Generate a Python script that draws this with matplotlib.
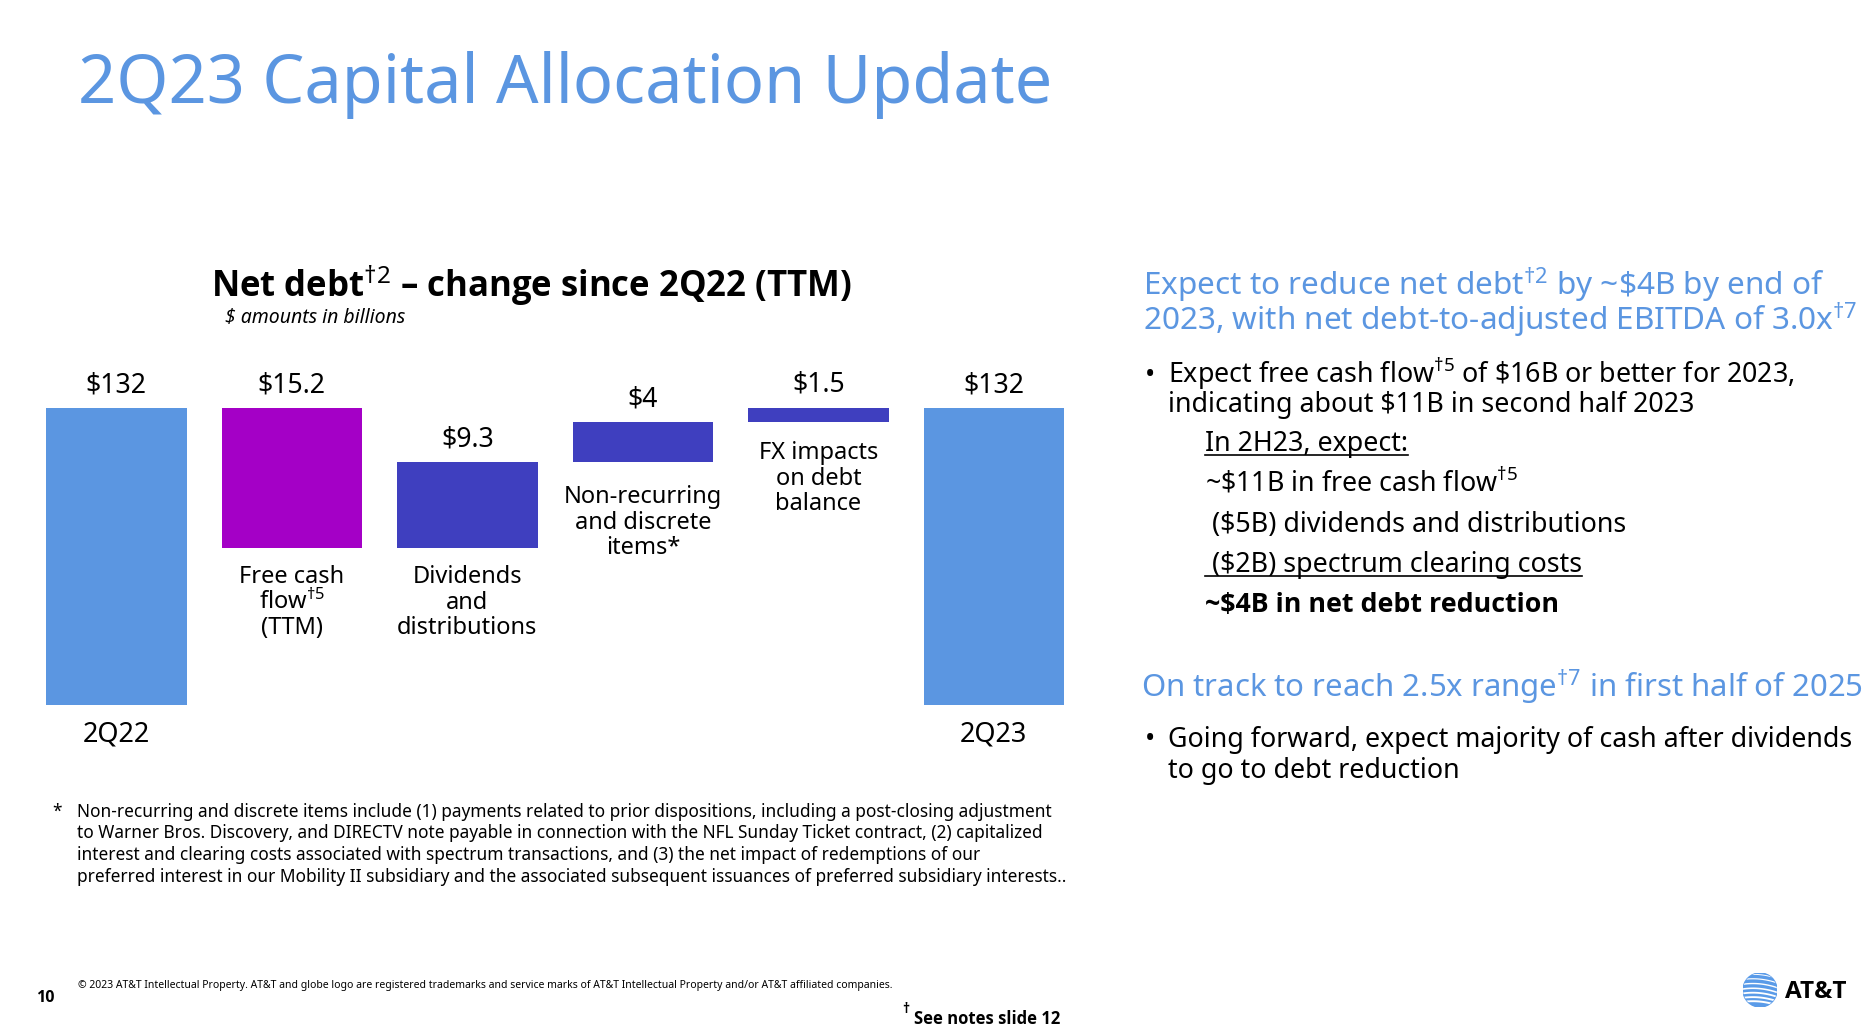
import matplotlib
matplotlib.use('Agg')
import matplotlib.pyplot as plt
import numpy as np
from matplotlib.patches import Circle
from matplotlib.lines import Line2D
from matplotlib import font_manager as fm

# ---------------- data ----------------
periods = ['2Q22', '2Q23']
start_value = 132.0
end_value = 132.0
change_names = [['Free cash', 'flow$^{\\dagger 5}$', '(TTM)'],
                ['Dividends', 'and', 'distributions'],
                ['Non-recurring', 'and discrete', 'items*'],
                ['FX impacts', 'on debt', 'balance']]
change_values = [-15.2, 9.3, 4.4, 1.5]
value_labels = ['$132', '$15.2', '$9.3', '$4', '$1.5', '$132']

# ---------------- style ----------------
W, H, DPI = 1873, 1036, 100
FONT = 'Noto Sans'
BLUE = '#5B96E1'
MAGENTA = '#A400C6'
INDIGO = '#3F3FBF'
bar_colors = [BLUE, MAGENTA, INDIGO, INDIGO, INDIGO, BLUE]
label_gap_px = [37, 35.5, 35.5, 41, 37, 37]   # first-line baseline below visible bar bottom
value_gap_px = [15.5, 15.5, 15.5, 16, 17, 15.5]
PT = 72.0 / DPI


def has_bold(fam):
    try:
        p = fm.findfont(fm.FontProperties(family=fam, weight='bold'), fallback_to_default=False)
    except Exception:
        return False
    p = p.lower()
    return ('bold' in p) or ('black' in p) or ('heavy' in p)


BOLD_FONT = 'DejaVu Sans'
for fam in ['Noto Sans', 'Open Sans', 'Lato', 'Roboto', 'Inter', 'Liberation Sans']:
    if has_bold(fam):
        BOLD_FONT = fam
        break

plt.rcParams['font.family'] = [FONT, 'DejaVu Sans']
plt.rcParams['mathtext.fontset'] = 'custom'
plt.rcParams['mathtext.rm'] = FONT
plt.rcParams['mathtext.it'] = FONT + ':italic'
plt.rcParams['mathtext.bf'] = FONT + ':bold'

fig = plt.figure(figsize=(W / DPI, H / DPI), dpi=DPI)
fig.patch.set_facecolor('white')


def fx(x):
    return x / W


def fy(y):
    return 1 - y / H


def ftext(x, y, s, **kw):
    kw.setdefault('va', 'baseline')
    kw.setdefault('ha', 'left')
    return fig.text(fx(x), fy(y), s, **kw)


def btext(x, y, s, **kw):
    kw['family'] = [BOLD_FONT, 'DejaVu Sans']
    kw['fontweight'] = 'bold'
    return ftext(x, y, s, **kw)


# ---------------- title ----------------
ftext(78, 103, '2Q23 Capital Allocation Update', fontsize=48, color=BLUE)

# ---------------- waterfall chart ----------------
ax = fig.add_axes([28.6 / W, 1 - 705 / H, 1053 / W, 375 / H])
n = len(change_values) + 2
xs = np.arange(n)
bottoms = [0.0]
heights = [start_value]
level = start_value
for d in change_values:
    if d < 0:
        bottoms.append(level + d)
        heights.append(-d)
    else:
        bottoms.append(level)
        heights.append(d)
    level += d
bottoms.append(0.0)
heights.append(end_value)
ax.bar(xs, heights, bottom=bottoms, width=0.8, color=bar_colors, edgecolor='none')
ax.set_xlim(-0.5, n - 0.5)
ax.set_ylim(99.65, 140.54)
ax.axis('off')

ymin = ax.get_ylim()[0]
for i in range(n):
    top = bottoms[i] + heights[i]
    ax.annotate(value_labels[i], (xs[i], top), xytext=(0, value_gap_px[i] * PT),
                textcoords='offset points', ha='center', va='baseline',
                fontsize=19.2, color='black', annotation_clip=False)

all_names = [[periods[0]]] + change_names + [[periods[1]]]
for i in range(n):
    vis_bottom = max(bottoms[i], ymin)
    lines = all_names[i]
    fs = 19.5 if i in (0, n - 1) else 17
    for k, line in enumerate(lines):
        off = -(label_gap_px[i] + k * 25.5) * PT
        ax.annotate(line, (xs[i], vis_bottom), xytext=(0, off),
                    textcoords='offset points', ha='center', va='baseline',
                    fontsize=fs, color='black', annotation_clip=False)

# chart title
btext(531, 297, 'Net debt$^{\\dagger 2}$ – change since 2Q22 (TTM)', fontsize=25,
      ha='center', color='black')
ftext(225, 323, '$ amounts in billions', fontsize=14, style='italic', color='black')

# ---------------- right column ----------------
HS = 22.7
BS = 19.3
ftext(1143, 295.5, 'Expect to reduce net debt$^{\\dagger 2}$ by ~\\$4B by end of', fontsize=HS, color=BLUE)
ftext(1143, 330, '2023, with net debt-to-adjusted EBITDA of 3.0x$^{\\dagger 7}$', fontsize=HS, color=BLUE)

ftext(1145, 382.5, '•', fontsize=BS)
ftext(1168, 382.5, 'Expect free cash flow$^{\\dagger 5}$ of \\$16B or better for 2023,', fontsize=BS)
ftext(1168, 412, 'indicating about $11B in second half 2023', fontsize=BS)

t_in = ftext(1205, 451, 'In 2H23, expect:', fontsize=BS)
ftext(1205, 491.5, '~\\$11B in free cash flow$^{\\dagger 5}$', fontsize=BS)
ftext(1205, 532, ' ($5B) dividends and distributions', fontsize=BS)
t_sp = ftext(1205, 572, ' ($2B) spectrum clearing costs', fontsize=BS)
btext(1205, 612, '~$4B in net debt reduction', fontsize=BS)

ftext(1141, 697.5, 'On track to reach 2.5x range$^{\\dagger 7}$ in first half of 2025', fontsize=22.4, color=BLUE)
ftext(1145, 747, '•', fontsize=BS)
ftext(1168, 747, 'Going forward, expect majority of cash after dividends', fontsize=BS)
ftext(1168, 778, 'to go to debt reduction', fontsize=BS)

# ---------------- footnotes ----------------
foot_lines = [
    'Non-recurring and discrete items include (1) payments related to prior dispositions, including a post-closing adjustment',
    'to Warner Bros. Discovery, and DIRECTV note payable in connection with the NFL Sunday Ticket contract, (2) capitalized',
    'interest and clearing costs associated with spectrum transactions, and (3) the net impact of redemptions of our',
    'preferred interest in our Mobility II subsidiary and the associated subsequent issuances of preferred subsidiary interests..',
]
ftext(52, 817, '*', fontsize=12.45)
for k, line in enumerate(foot_lines):
    ftext(77, 817 + k * 21.5, line, fontsize=12.45)

btext(36, 1002, '10', fontsize=11.5)
ftext(78, 988, '© 2023 AT&T Intellectual Property. AT&T and globe logo are registered trademarks and service marks of AT&T Intellectual Property and/or AT&T affiliated companies.',
      fontsize=7.5)
btext(902, 1013, '†', fontsize=10)
btext(914, 1024, 'See notes slide 12', fontsize=12)

# ---------------- AT&T logo ----------------
lax = fig.add_axes([1743 / W, 1 - 1007 / H, 34 / W, 34 / H])
lax.set_xlim(-1, 1)
lax.set_ylim(-1, 1)
lax.set_aspect('equal')
lax.axis('off')
globe = Circle((0, 0), 1, color='#5A9BE8')
lax.add_patch(globe)
gx = np.linspace(-1.1, 1.1, 100)
for yk, lw in zip([-0.8, -0.56, -0.3, -0.04, 0.24, 0.52, 0.78], [1.4, 1.35, 1.3, 1.15, 1.0, 0.85, 0.7]):
    ln, = lax.plot(gx, yk + 0.12 * (1 - gx ** 2) - 0.1 * gx, color='white', lw=lw)
    ln.set_clip_path(globe)
btext(1785, 998, 'AT&T', fontsize=17.5)

# ---------------- underlines ----------------
fig.canvas.draw()
r = fig.canvas.get_renderer()
for t, yb in [(t_in, 451), (t_sp, 572)]:
    bb = t.get_window_extent(r)
    fig.add_artist(Line2D([bb.x0 / W, bb.x1 / W], [fy(yb + 3.5), fy(yb + 3.5)],
                          transform=fig.transFigure, color='black', lw=1.2))

fig.savefig('out.png', dpi=DPI, facecolor='white')
